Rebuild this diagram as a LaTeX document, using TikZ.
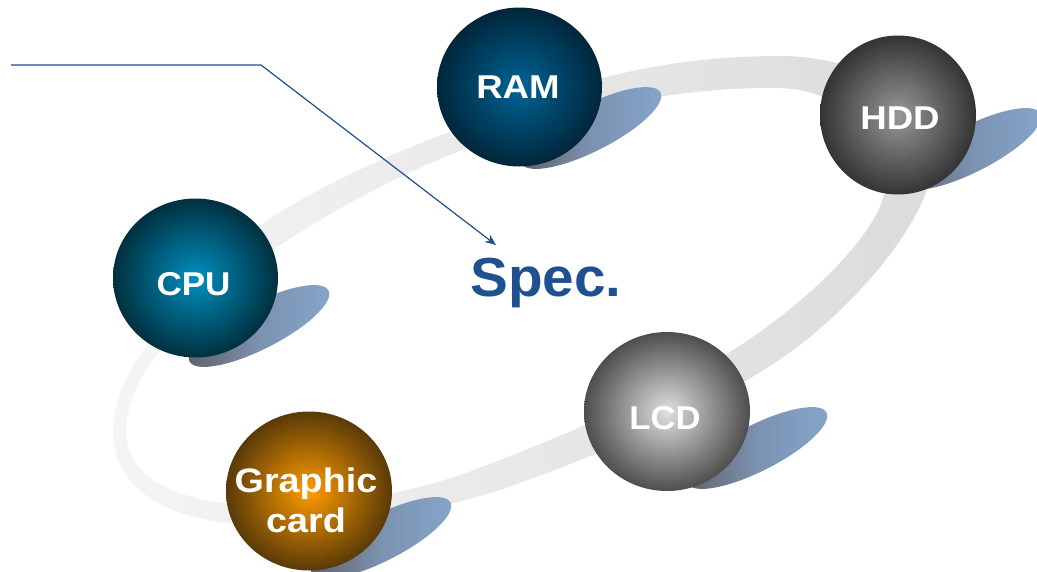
\documentclass[tikz,border=0pt]{standalone}
\usepackage{fontspec}
\setmainfont{Liberation Sans}
\usetikzlibrary{arrows.meta,shapes.geometric}
\definecolor{specblue}{HTML}{1F5090}
\definecolor{shblue}{HTML}{86A6CC}
\definecolor{shgray}{HTML}{5F5F66}
\tikzset{
  x=1pt,y=-1pt,
  ballnode/.style={shape=ellipse,minimum width=#1,minimum height=159pt,inner sep=0pt},
  lbl/.style={text=white,font=\bfseries\fontsize{33}{40}\selectfont,align=center,xscale=#1,inner sep=0pt},
  lbl/.default=1.11,
  cast/.style={left color=shgray,right color=shblue,middle color=shblue!72!shgray},
}
\definecolor{cpuin}{HTML}{0090C0}\definecolor{cpuout}{HTML}{00303F}
\definecolor{ramin}{HTML}{006498}\definecolor{ramout}{HTML}{00263A}
\definecolor{hddin}{HTML}{989898}\definecolor{hddout}{HTML}{343434}
\definecolor{lcdin}{HTML}{E0E0E0}\definecolor{lcdout}{HTML}{4E4E4E}
\definecolor{gfxin}{HTML}{FF9C00}\definecolor{gfxout}{HTML}{5A3A08}
\begin{document}
\begin{tikzpicture}
\useasboundingbox (0,0) rectangle (1037,571);
\fill[white] (0,0) rectangle (1037,571);
\begin{scope}
\clip (0,0) rectangle (1037,571);
% ring
\shade[left color=black!4,right color=black!14,even odd rule]
 (113,432) .. controls (113,395) and (135,355) .. (165,325)
 .. controls (200,290) and (230,245) .. (265,222)
 .. controls (320,185) and (400,150) .. (450,132)
 .. controls (520,105) and (620,56) .. (780,56)
 .. controls (850,56) and (935,90) .. (935,150)
 .. controls (935,210) and (870,290) .. (800,345)
 .. controls (720,405) and (600,455) .. (500,490)
 .. controls (420,515) and (340,527) .. (270,526)
 .. controls (170,525) and (113,490) .. (113,432) -- cycle
 (126,432) .. controls (126,400) and (145,365) .. (170,340)
 .. controls (205,305) and (240,270) .. (277,247)
 .. controls (340,205) and (410,170) .. (467,148)
 .. controls (540,120) and (660,86) .. (780,88)
 .. controls (840,90) and (885,130) .. (885,185)
 .. controls (885,230) and (800,310) .. (725,355)
 .. controls (650,400) and (530,450) .. (460,475)
 .. controls (400,495) and (330,507) .. (270,506)
 .. controls (180,505) and (126,480) .. (126,432) -- cycle;
% shadows
\foreach \cx/\cy in {259/326,591/128,971/149,757/448,381/538}{
  \shade[cast,rotate around={27:(\cx,\cy)}] (\cx,\cy) ellipse [x radius=78,y radius=23];
}
\end{scope}
% spheres
\node[ballnode=165pt,inner color=cpuin,outer color=cpuout] (cpu) at (195.5,278) {};
\node[ballnode=165pt,inner color=ramin,outer color=ramout] (ram) at (519.5,87) {};
\node[ballnode=156pt,inner color=hddin,outer color=hddout] (hdd) at (898,115) {};
\node[ballnode=166pt,inner color=lcdin,outer color=lcdout] (lcd) at (667,411.5) {};
\node[ballnode=166pt,inner color=gfxin,outer color=gfxout] (gfx) at (309,491) {};
% labels
\node[lbl=1.06] (cpul) at (193.5,284) {CPU};
\node[lbl] (raml) at (518,87) {RAM};
\node[lbl] (hddl) at (900,118) {HDD};
\node[lbl=1.05] (lcdl) at (665,418) {LCD};
\node[lbl,font=\bfseries\fontsize{34}{40}\selectfont] (gfxl) at (306,500) {Graphic\\card};
\node[inner sep=0pt,text=specblue,font=\bfseries\fontsize{55}{60}\selectfont,xscale=1.03] (spec) at (546,283) {Spec.};
% leader
\coordinate (a) at (11,65);
\coordinate (b) at (261,65);
\coordinate (tip) at (496,245);
\draw[specblue,line width=1.2pt,-{Stealth[length=11pt,width=9pt]}] (a) -- (b) -- (tip);
\end{tikzpicture}
\end{document}
